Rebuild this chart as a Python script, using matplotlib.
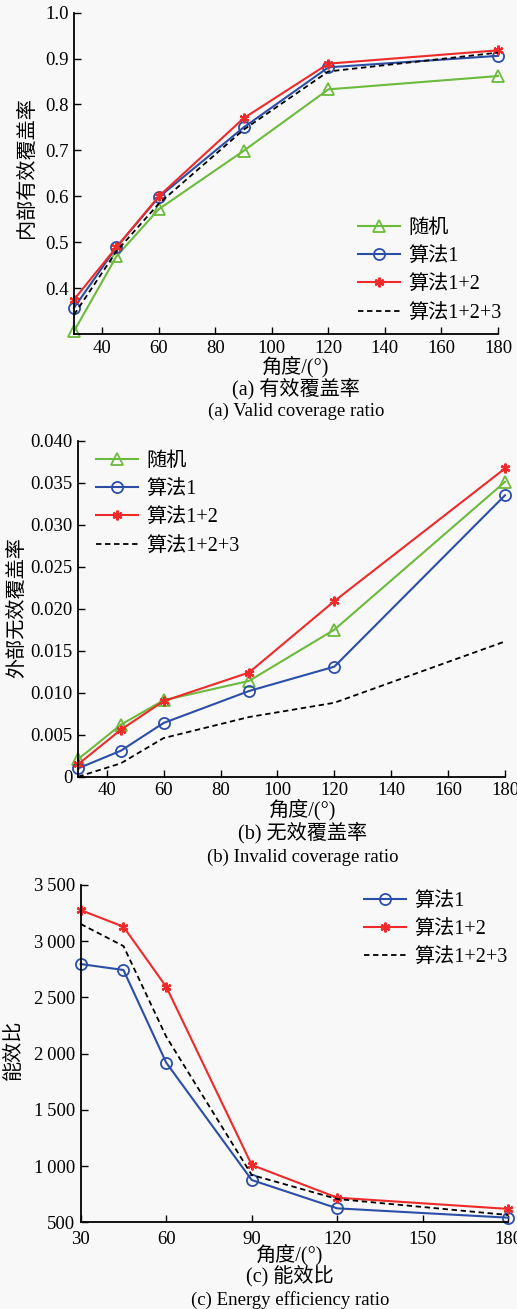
import numpy as np
import matplotlib
matplotlib.use('Agg')
import matplotlib.pyplot as plt
from matplotlib.ticker import FuncFormatter

plt.rcParams['font.family'] = ['Liberation Serif', 'Noto Sans CJK SC']
plt.rcParams['axes.unicode_minus'] = False

W, H = 517, 1309
BG = '#f8f8f8'

angles = [30, 45, 60, 90, 120, 180]

# (a) valid coverage ratio
valid_random = [0.306, 0.469, 0.572, 0.699, 0.833, 0.862]
valid_alg1 = [0.357, 0.489, 0.598, 0.750, 0.881, 0.906]
valid_alg12 = [0.375, 0.489, 0.600, 0.770, 0.889, 0.918]
valid_alg123 = [0.342, 0.480, 0.584, 0.745, 0.872, 0.913]

# (b) invalid coverage ratio
invalid_random = [0.0021, 0.0062, 0.0091, 0.0114, 0.0175, 0.0351]
invalid_alg1 = [0.0010, 0.0031, 0.0064, 0.0102, 0.0131, 0.0335]
invalid_alg12 = [0.0015, 0.0056, 0.0090, 0.0124, 0.0209, 0.0367]
invalid_alg123 = [0.0000, 0.0016, 0.0046, 0.0071, 0.0088, 0.0161]

# (c) energy efficiency ratio
energy_alg1 = [2797, 2744, 1920, 876, 624, 541]
energy_alg12 = [3277, 3129, 2595, 1010, 719, 619]
energy_alg123 = [3153, 2957, 2151, 921, 707, 565]

labels = ['随机', '算法1', '算法1+2', '算法1+2+3']
green, blue, red = '#6cbb3c', '#2b4ea6', '#ee2a2a'

FS = 13.5
FS_CN = 14.5


def px_axes(fig, left, top, right, bottom):
    return fig.add_axes([left / W, 1 - bottom / H, (right - left) / W, (bottom - top) / H])


def style(ax):
    ax.set_facecolor(BG)
    for s in ['top', 'right']:
        ax.spines[s].set_visible(False)
    for s in ['left', 'bottom']:
        ax.spines[s].set_linewidth(1.3)
    ax.tick_params(direction='in', length=5, width=1.0, labelsize=FS, pad=4)


def draw(ax, ys, with_random=True):
    handles = []
    i0 = 0 if with_random else 1
    kw = [
        dict(color=green, marker='^', mfc='none', ms=8, mew=1.3, lw=1.5),
        dict(color=blue, marker='o', mfc='none', ms=8, mew=1.3, lw=1.5),
        dict(color=red, marker=(6, 2, 0), ms=7, mew=1.6, lw=1.5),
        dict(color='black', ls='--', lw=1.3, dashes=(3, 2)),
    ]
    for k, y in enumerate(ys):
        h, = ax.plot(angles, y, label=labels[i0 + k], **kw[i0 + k], clip_on=False)
        handles.append(h)
    return handles


def legend(ax, handles, x, y):
    ax.legend(handles=handles, loc='upper left', bbox_to_anchor=(x / W, 1 - y / H),
              bbox_transform=ax.figure.transFigure, frameon=False,
              prop={'size': FS_CN},
              handlelength=2.1, handletextpad=0.4, labelspacing=0.45, borderpad=0,
              borderaxespad=0)


def captions(fig, x, y1, y2, y3, cn, en):
    fig.text(x / W, 1 - y1 / H, '角度/(°)', ha='center', va='center', fontsize=FS_CN)
    fig.text(x / W, 1 - y2 / H, cn, ha='center', va='center', fontsize=FS_CN)
    fig.text(x / W, 1 - y3 / H, en, ha='center', va='center', fontsize=FS)


fig = plt.figure(figsize=(W / 100, H / 100), dpi=100, facecolor=BG)

# panel (a)
ax1 = px_axes(fig, 74, 12.7, 498, 334)
style(ax1)
h = draw(ax1, [valid_random, valid_alg1, valid_alg12, valid_alg123])
ax1.set_xlim(30, 180)
ax1.set_ylim(0.3, 1.0)
ax1.set_xticks([40, 60, 80, 100, 120, 140, 160, 180])
ax1.set_yticks([0.4, 0.5, 0.6, 0.7, 0.8, 0.9, 1.0])
ax1.yaxis.set_major_formatter(FuncFormatter(lambda v, p: f'{v:.1f}'))
legend(ax1, h, 358, 219)
fig.text(27 / W, 1 - 168 / H, '内部有效覆盖率', rotation=90, ha='center', va='center', fontsize=FS_CN)
captions(fig, 296, 367, 389, 411, '(a) 有效覆盖率', '(a) Valid coverage ratio')

# panel (b)
ax2 = px_axes(fig, 78.3, 440.7, 505, 776.7)
style(ax2)
h = draw(ax2, [invalid_random, invalid_alg1, invalid_alg12, invalid_alg123])
ax2.set_xlim(30, 180)
ax2.set_ylim(0, 0.04)
ax2.set_xticks([40, 60, 80, 100, 120, 140, 160, 180])
ax2.set_yticks(np.arange(0, 0.0401, 0.005))
ax2.yaxis.set_major_formatter(FuncFormatter(lambda v, p: '0' if abs(v) < 1e-9 else f'{v:.3f}'))
legend(ax2, h, 96, 452)
fig.text(18 / W, 1 - 608 / H, '外部无效覆盖率', rotation=90, ha='center', va='center', fontsize=FS_CN)
captions(fig, 303, 810, 833, 857, '(b) 无效覆盖率', '(b) Invalid coverage ratio')

# panel (c)
ax3 = px_axes(fig, 80.7, 885, 508.3, 1222.3)
style(ax3)
h = draw(ax3, [energy_alg1, energy_alg12, energy_alg123], with_random=False)
ax3.set_xlim(30, 180)
ax3.set_ylim(500, 3500)
ax3.set_xticks([30, 60, 90, 120, 150, 180])
ax3.set_yticks(np.arange(500, 3501, 500))
ax3.yaxis.set_major_formatter(
    FuncFormatter(lambda v, p: f'{int(v):,}'.replace(',', '\u2009') if v >= 1000 else f'{int(v)}'))
ax3.tick_params(axis='x', pad=6)
legend(ax3, h, 364, 892)
fig.text(14 / W, 1 - 1050 / H, '能效比', rotation=90, ha='center', va='center', fontsize=FS_CN)
captions(fig, 290, 1255, 1277, 1300, '(c) 能效比', '(c) Energy efficiency ratio')

fig.savefig('out.png', dpi=100, facecolor=BG)
